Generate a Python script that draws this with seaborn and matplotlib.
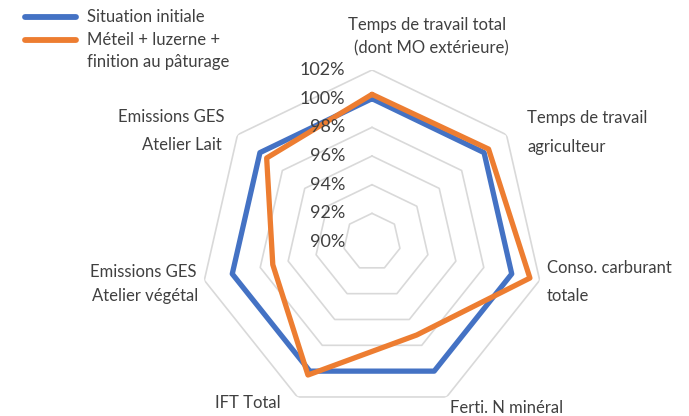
import numpy as np
import pandas as pd
import matplotlib
matplotlib.use("Agg")
import matplotlib.pyplot as plt
import matplotlib.transforms as mtransforms
import seaborn as sns

categories = ["Temps de travail total\n(dont MO extérieure)", "Temps de travail\nagriculteur",
              "Conso. carburant\ntotale", "Ferti. N minéral", "IFT Total",
              "Emissions GES\nAtelier végétal", "Emissions GES\nAtelier Lait"]
series_names = ["Situation initiale", "Méteil + luzerne +\nfinition au pâturage"]
situation_initiale = [100.0, 100.0, 100.0, 100.0, 100.0, 100.0, 100.0]
meteil_luzerne = [100.3, 100.4, 101.3, 97.2, 100.3, 97.1, 99.4]
tick_values = [90, 92, 94, 96, 98, 100, 102]
tick_labels = ["90%", "92%", "94%", "96%", "98%", "100%", "102%"]

W, H = 689, 416
sns.set_theme(style="white")
plt.rcParams['font.family'] = ['Lato', 'DejaVu Sans']

fig = plt.figure(figsize=(W / 100, H / 100), dpi=100)
cx, cy, R = 372, 242, 172
ax = fig.add_axes([(cx - R) / W, (H - cy - R) / H, 2 * R / W, 2 * R / H], projection='polar')
ax.set_theta_offset(np.pi / 2)
ax.set_theta_direction(-1)
ax.set_ylim(90, 102)
ax.set_xticks([])
ax.set_yticks([])
ax.grid(False)
ax.spines['polar'].set_visible(False)
ax.patch.set_alpha(0)

n = len(categories)
angles = np.arange(n) * 2 * np.pi / n
closed = np.append(angles, angles[0])

# heptagonal grid
for v in tick_values[1:]:
    ax.plot(closed, [v] * (n + 1), color="#D9D9D9", lw=1.2, zorder=1)

colors = ["#4472C4", "#ED7D31"]
rows = []
for name, vals in zip(series_names, [situation_initiale, meteil_luzerne]):
    for i in range(n + 1):
        rows.append({"theta": closed[i], "r": vals[i % n], "serie": name, "order": i})
df = pd.DataFrame(rows)
for k, name in enumerate(series_names):
    sub = df[df.serie == name]
    sns.lineplot(data=sub, x="theta", y="r", sort=False, ax=ax, color=colors[k],
                 lw=3.8, zorder=3 + k, estimator=None)
ax.set_xlabel("")
ax.set_ylabel("")
ax.set_ylim(90, 102)

# radial tick labels
off = mtransforms.offset_copy(ax.transData, fig=fig, x=-27, y=0, units='dots')
for v, lab in zip(tick_values, tick_labels):
    ax.text(0, v, lab, transform=off, ha='right', va='center', fontsize=13, color="#404040", zorder=5)

def ft(x, y, s, ha='left'):
    fig.text(x / W, 1 - y / H, s, ha=ha, va='center', fontsize=12, color="#404040")

# category labels
ft(427, 25, "Temps de travail total", 'center')
ft(431, 48, "(dont MO extérieure)", 'center')
ft(527, 118, "Temps de travail")
ft(527, 147, "agriculteur")
ft(547, 268, "Conso. carburant")
ft(547, 296, "totale")
ft(450, 408, "Ferti. N minéral")
ft(215, 403, "IFT Total")
ft(196, 272, "Emissions GES", 'right')
ft(198, 296, "Atelier végétal", 'right')
ft(224, 117, "Emissions GES", 'right')
ft(222, 145, "Atelier Lait", 'right')

# legend
for k, (y, lines) in enumerate([(17, ["Situation initiale"]), (40, ["Méteil + luzerne +", "finition au pâturage"])]):
    fig.add_artist(plt.Line2D([25 / W, 76 / W], [1 - y / H, 1 - y / H], color=colors[k], lw=4.2,
                              solid_capstyle='round', transform=fig.transFigure))
    for j, t in enumerate(lines):
        ft(87, y + 22 * j, t)

fig.savefig("out.png", dpi=100)
